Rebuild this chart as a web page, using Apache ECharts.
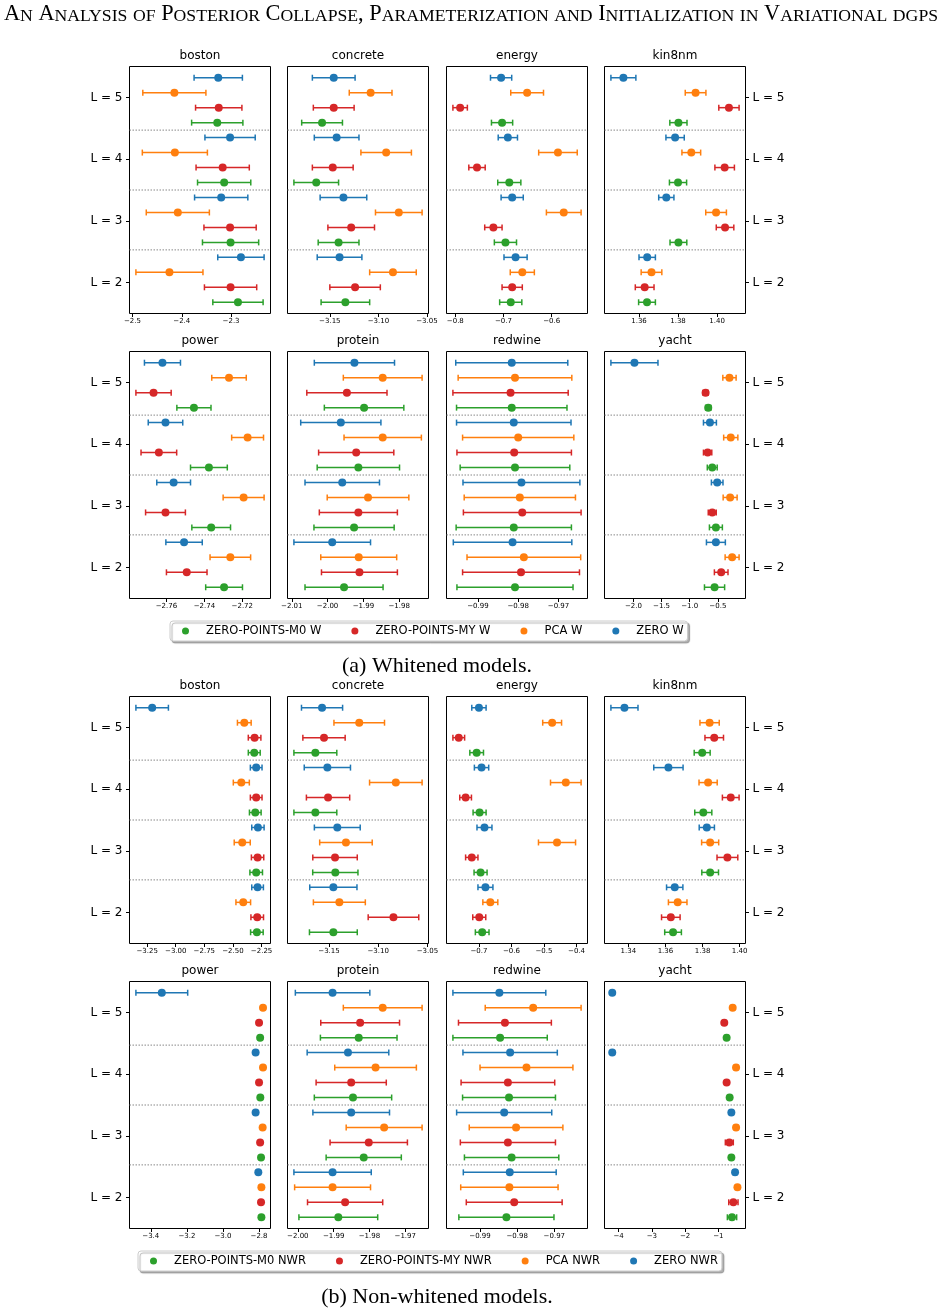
<!DOCTYPE html>
<html>
<head>
<meta charset="utf-8">
<script src="https://cdn.jsdelivr.net/npm/echarts@6/dist/echarts.min.js"></script>
<style>
html, body { margin: 0; padding: 0; background: #fff; }
#chart { width: 942px; height: 1314px; }
</style>
</head>
<body>
<div id="chart"></div>
<script>
// rows of every matrix: ZERO, PCA, ZERO-POINTS-MY, ZERO-POINTS-M0
// columns: L = 5, L = 4, L = 3, L = 2
var layers = ['L = 5', 'L = 4', 'L = 3', 'L = 2'];
var methods = ['ZERO', 'PCA', 'ZERO-POINTS-MY', 'ZERO-POINTS-M0'];
var colors = ['#1f77b4', '#ff7f0e', '#d62728', '#2ca02c'];

// ---- (a) whitened ----
var boston_w_mean = [[-2.326, -2.302, -2.320, -2.280], [-2.415, -2.414, -2.408, -2.425], [-2.325, -2.317, -2.302, -2.301], [-2.328, -2.314, -2.301, -2.286]];
var boston_w_err = [[0.049, 0.051, 0.054, 0.047], [0.064, 0.066, 0.064, 0.068], [0.047, 0.054, 0.053, 0.053], [0.052, 0.054, 0.057, 0.051]];
var boston_w_ticks = ['-2.5', '-2.4', '-2.3'];

var concrete_w_mean = [[-3.146, -3.143, -3.136, -3.140], [-3.108, -3.092, -3.079, -3.085], [-3.146, -3.147, -3.128, -3.124], [-3.158, -3.164, -3.141, -3.134]];
var concrete_w_err = [[0.022, 0.023, 0.024, 0.023], [0.022, 0.026, 0.024, 0.024], [0.021, 0.021, 0.024, 0.026], [0.021, 0.023, 0.021, 0.025]];
var concrete_w_ticks = ['-3.15', '-3.10', '-3.05'];

var energy_w_mean = [[-0.705, -0.691, -0.682, -0.675], [-0.651, -0.587, -0.575, -0.661], [-0.790, -0.755, -0.721, -0.682], [-0.703, -0.688, -0.696, -0.685]];
var energy_w_err = [[0.022, 0.020, 0.023, 0.024], [0.034, 0.040, 0.036, 0.025], [0.015, 0.017, 0.018, 0.021], [0.022, 0.024, 0.023, 0.023]];
var energy_w_ticks = ['-0.8', '-0.7', '-0.6'];

var kin8nm_w_mean = [[1.3520, 1.3785, 1.3740, 1.3642], [1.3890, 1.3868, 1.3995, 1.3664], [1.4061, 1.4039, 1.4041, 1.3629], [1.3802, 1.3800, 1.3802, 1.3641]];
var kin8nm_w_err = [[0.0064, 0.0047, 0.0039, 0.0042], [0.0053, 0.0048, 0.0053, 0.0053], [0.0052, 0.0050, 0.0045, 0.0048], [0.0044, 0.0044, 0.0043, 0.0043]];
var kin8nm_w_ticks = ['1.36', '1.38', '1.40'];

var power_w_mean = [[-2.7621, -2.7605, -2.7562, -2.7507], [-2.7270, -2.7172, -2.7193, -2.7263], [-2.7668, -2.7640, -2.7605, -2.7493], [-2.7455, -2.7376, -2.7364, -2.7296]];
var power_w_err = [[0.0095, 0.0091, 0.0089, 0.0096], [0.0091, 0.0084, 0.0108, 0.0107], [0.0093, 0.0094, 0.0105, 0.0107], [0.0090, 0.0097, 0.0102, 0.0097]];
var power_w_ticks = ['-2.76', '-2.74', '-2.72'];

var protein_w_mean = [[-1.9925, -1.9963, -1.9959, -1.9987], [-1.9846, -1.9846, -1.9887, -1.9913], [-1.9946, -1.9920, -1.9914, -1.9911], [-1.9898, -1.9914, -1.9926, -1.9954]];
var protein_w_err = [[0.0112, 0.0112, 0.0104, 0.0107], [0.0110, 0.0108, 0.0114, 0.0106], [0.0112, 0.0105, 0.0109, 0.0106], [0.0111, 0.0115, 0.0112, 0.0109]];
var protein_w_ticks = ['-2.01', '-2.00', '-1.99', '-1.98'];

var redwine_w_mean = [[-0.9816, -0.9811, -0.9792, -0.9814], [-0.9808, -0.9800, -0.9796, -0.9786], [-0.9819, -0.9810, -0.9790, -0.9793], [-0.9816, -0.9808, -0.9811, -0.9808]];
var redwine_w_err = [[0.0139, 0.0142, 0.0145, 0.0147], [0.0141, 0.0138, 0.0138, 0.0141], [0.0143, 0.0142, 0.0146, 0.0145], [0.0137, 0.0136, 0.0143, 0.0144]];
var redwine_w_ticks = ['-0.99', '-0.98', '-0.97'];

var yacht_w_mean = [[-1.982, -0.641, -0.512, -0.535], [-0.294, -0.271, -0.282, -0.247], [-0.718, -0.682, -0.600, -0.441], [-0.671, -0.600, -0.535, -0.559]];
var yacht_w_err = [[0.418, 0.115, 0.103, 0.168], [0.118, 0.126, 0.124, 0.124], [0.047, 0.074, 0.071, 0.121], [0.047, 0.088, 0.115, 0.179]];
var yacht_w_ticks = ['-2.0', '-1.5', '-1.0', '-0.5'];

// ---- (b) non-whitened ----
var boston_n_mean = [[-3.206, -2.297, -2.282, -2.285], [-2.401, -2.427, -2.419, -2.410], [-2.311, -2.297, -2.285, -2.288], [-2.314, -2.305, -2.297, -2.291]];
var boston_n_err = [[0.142, 0.051, 0.054, 0.051], [0.060, 0.070, 0.070, 0.064], [0.055, 0.051, 0.054, 0.055], [0.052, 0.051, 0.055, 0.055]];
var boston_n_ticks = ['-3.25', '-3.00', '-2.75', '-2.50', '-2.25'];

var concrete_n_mean = [[-3.1571, -3.1517, -3.1416, -3.1456], [-3.1193, -3.0821, -3.1328, -3.1395], [-3.1551, -3.1510, -3.1439, -3.0845], [-3.1639, -3.1639, -3.1436, -3.1456]];
var concrete_n_err = [[0.0209, 0.0235, 0.0233, 0.0240], [0.0257, 0.0267, 0.0267, 0.0264], [0.0215, 0.0220, 0.0226, 0.0257], [0.0218, 0.0218, 0.0230, 0.0243]];
var concrete_n_ticks = ['-3.15', '-3.10', '-3.05'];

var energy_n_mean = [[-0.700, -0.692, -0.683, -0.680], [-0.475, -0.433, -0.460, -0.665], [-0.762, -0.741, -0.722, -0.699], [-0.707, -0.698, -0.695, -0.690]];
var energy_n_err = [[0.022, 0.022, 0.023, 0.023], [0.029, 0.047, 0.057, 0.023], [0.018, 0.018, 0.019, 0.020], [0.021, 0.020, 0.020, 0.021]];
var energy_n_ticks = ['-0.7', '-0.6', '-0.5', '-0.4'];

var kin8nm_n_mean = [[1.3379, 1.3616, 1.3823, 1.3650], [1.3838, 1.3830, 1.3841, 1.3666], [1.3863, 1.3952, 1.3934, 1.3629], [1.3798, 1.3804, 1.3841, 1.3641]];
var kin8nm_n_err = [[0.0073, 0.0079, 0.0041, 0.0044], [0.0052, 0.0049, 0.0046, 0.0050], [0.0050, 0.0045, 0.0056, 0.0050], [0.0043, 0.0046, 0.0045, 0.0045]];
var kin8nm_n_ticks = ['1.34', '1.36', '1.38', '1.40'];

var power_n_mean = [[-3.339, -2.819, -2.819, -2.804], [-2.778, -2.778, -2.780, -2.787], [-2.800, -2.800, -2.794, -2.789], [-2.794, -2.793, -2.789, -2.787]];
var power_n_err = [[0.1435, 0.008, 0.008, 0.008], [0.006, 0.006, 0.006, 0.006], [0.006, 0.006, 0.006, 0.006], [0.006, 0.006, 0.006, 0.006]];
var power_n_ticks = ['-3.4', '-3.2', '-3.0', '-2.8'];

var protein_n_mean = [[-1.9903, -1.9860, -1.9851, -1.9903], [-1.9763, -1.9783, -1.9759, -1.9903], [-1.9826, -1.9851, -1.9802, -1.9868], [-1.9830, -1.9846, -1.9816, -1.9887]];
var protein_n_err = [[0.0104, 0.0114, 0.0107, 0.0108], [0.0110, 0.0114, 0.0106, 0.0106], [0.0110, 0.0098, 0.0108, 0.0105], [0.0107, 0.0108, 0.0105, 0.0110]];
var protein_n_ticks = ['-2.00', '-1.99', '-1.98', '-1.97'];

var redwine_n_mean = [[-0.9848, -0.9819, -0.9835, -0.9820], [-0.9757, -0.9775, -0.9803, -0.9821], [-0.9833, -0.9825, -0.9825, -0.9808], [-0.9846, -0.9822, -0.9815, -0.9829]];
var redwine_n_err = [[0.0125, 0.0127, 0.0128, 0.0125], [0.0129, 0.0125, 0.0126, 0.0131], [0.0125, 0.0126, 0.0128, 0.0129], [0.0127, 0.0125, 0.0127, 0.0128]];
var redwine_n_ticks = ['-0.99', '-0.98', '-0.97'];

var yacht_n_mean = [[-4.193, -4.193, -0.609, -0.497], [-0.569, -0.467, -0.467, -0.426], [-0.822, -0.751, -0.670, -0.548], [-0.751, -0.660, -0.609, -0.589]];
var yacht_n_err = [[0.04, 0.04, 0.05, 0.06], [0.05, 0.05, 0.05, 0.05], [0.05, 0.05, 0.12, 0.14], [0.05, 0.05, 0.05, 0.14]];
var yacht_n_ticks = ['-4', '-3', '-2', '-1'];

var panelsW = [
    ['boston', boston_w_mean, boston_w_err, boston_w_ticks],
    ['concrete', concrete_w_mean, concrete_w_err, concrete_w_ticks],
    ['energy', energy_w_mean, energy_w_err, energy_w_ticks],
    ['kin8nm', kin8nm_w_mean, kin8nm_w_err, kin8nm_w_ticks],
    ['power', power_w_mean, power_w_err, power_w_ticks],
    ['protein', protein_w_mean, protein_w_err, protein_w_ticks],
    ['redwine', redwine_w_mean, redwine_w_err, redwine_w_ticks],
    ['yacht', yacht_w_mean, yacht_w_err, yacht_w_ticks]
];
var panelsN = [
    ['boston', boston_n_mean, boston_n_err, boston_n_ticks],
    ['concrete', concrete_n_mean, concrete_n_err, concrete_n_ticks],
    ['energy', energy_n_mean, energy_n_err, energy_n_ticks],
    ['kin8nm', kin8nm_n_mean, kin8nm_n_err, kin8nm_n_ticks],
    ['power', power_n_mean, power_n_err, power_n_ticks],
    ['protein', protein_n_mean, protein_n_err, protein_n_ticks],
    ['redwine', redwine_n_mean, redwine_n_err, redwine_n_ticks],
    ['yacht', yacht_n_mean, yacht_n_err, yacht_n_ticks]
];

var colLeft = [129.5, 287.5, 446.5, 604.5];
var rowTop = [66.5, 351.5, 696.5, 981.5];
var panelW = 141, panelH = 247;
var sans = 'DejaVu Sans';
var serif = 'Liberation Serif';

var option = {
    animation: false,
    backgroundColor: '#fff',
    title: [],
    grid: [],
    xAxis: [],
    yAxis: [],
    legend: [],
    series: []
};

// small caps title via rich text
function smallCaps(str) {
    var out = '', cur = null, buf = '';
    for (var i = 0; i < str.length; i++) {
        var c = str[i];
        var st = (c >= 'a' && c <= 'z') ? 's' : 'b';
        if (st !== cur && buf) { out += '{' + cur + '|' + buf + '}'; buf = ''; }
        cur = st;
        buf += c.toUpperCase();
    }
    if (buf) out += '{' + cur + '|' + buf + '}';
    return out;
}

option.title.push({
    text: smallCaps('An Analysis of Posterior Collapse, Parameterization and Initialization in Variational dgps'),
    left: 471, top: 3, textAlign: 'center', padding: 0,
    textStyle: {
        fontWeight: 'normal',
        rich: {
            b: { fontFamily: serif, fontWeight: 'normal', fontSize: 22.3, lineHeight: 22, verticalAlign: 'bottom', color: '#000' },
            s: { fontFamily: serif, fontWeight: 'normal', fontSize: 17.7, lineHeight: 17.7, verticalAlign: 'bottom', color: '#000' }
        }
    }
});
option.title.push({
    text: '(a) Whitened models.', left: 437, top: 655, textAlign: 'center', padding: 0,
    textStyle: { fontFamily: serif, fontSize: 22, fontWeight: 'normal', color: '#000' }
});
option.title.push({
    text: '(b) Non-whitened models.', left: 437, top: 1286, textAlign: 'center', padding: 0,
    textStyle: { fontFamily: serif, fontSize: 22, fontWeight: 'normal', color: '#000' }
});

function errRender(color) {
    return function (params, api) {
        var m = api.value(0), y = api.value(1), e = api.value(2);
        var p = api.coord([m, y]);
        var l = api.coord([m - e, y]);
        var r = api.coord([m + e, y]);
        var cap = 3, st = { stroke: color, lineWidth: 1.5 };
        return {
            type: 'group',
            children: [
                { type: 'line', shape: { x1: l[0], y1: p[1], x2: r[0], y2: p[1] }, style: st },
                { type: 'line', shape: { x1: l[0], y1: p[1] - cap, x2: l[0], y2: p[1] + cap }, style: st },
                { type: 'line', shape: { x1: r[0], y1: p[1] - cap, x2: r[0], y2: p[1] + cap }, style: st },
                { type: 'circle', shape: { cx: p[0], cy: p[1], r: 4 }, style: { fill: color } }
            ]
        };
    };
}

function sepRender(params, api) {
    var cs = params.coordSys;
    var y = api.coord([api.value(0), api.value(1)])[1];
    return {
        type: 'line',
        shape: { x1: cs.x, y1: y, x2: cs.x + cs.width, y2: y },
        style: { stroke: '#888', lineWidth: 1, lineDash: [1.5, 1.5] }
    };
}

function addPanel(p, row, col, suffix) {
    var name = p[0], mean = p[1], err = p[2], ticks = p[3];
    var gi = option.grid.length;
    var lo = Infinity, hi = -Infinity;
    for (var k = 0; k < 4; k++) {
        for (var j = 0; j < 4; j++) {
            lo = Math.min(lo, mean[k][j] - err[k][j]);
            hi = Math.max(hi, mean[k][j] + err[k][j]);
        }
    }
    var pad = (hi - lo) * 0.05;
    var xmin = lo - pad, xmax = hi + pad;
    var tickVals = ticks.map(parseFloat).filter(function (v) { return v >= xmin && v <= xmax; });

    option.grid.push({
        left: colLeft[col], top: rowTop[row], width: panelW, height: panelH,
        show: true, borderColor: '#000', borderWidth: 1, backgroundColor: 'transparent',
        containLabel: false, outerBoundsMode: 'none'
    });
    option.title.push({
        text: name, left: colLeft[col] + panelW / 2, top: rowTop[row] - 16.5, textAlign: 'center', padding: 0,
        textStyle: { fontFamily: sans, fontSize: 12, fontWeight: 'normal', color: '#000' }
    });
    option.xAxis.push({
        type: 'value', gridIndex: gi, min: xmin, max: xmax,
        splitLine: { show: false },
        axisLine: { show: false, onZero: false },
        axisTick: { show: true, customValues: tickVals, length: 3.5, lineStyle: { color: '#000', width: 1 } },
        axisLabel: {
            customValues: tickVals, fontSize: 7, fontFamily: sans, color: '#000', margin: 4,
            formatter: function (v) {
                for (var i = 0; i < ticks.length; i++) {
                    if (Math.abs(parseFloat(ticks[i]) - v) < 1e-9) return ticks[i].replace('-', '\u2212');
                }
                return '';
            }
        }
    });
    var yi = option.yAxis.length;
    option.yAxis.push({
        type: 'value', gridIndex: gi, min: -0.75, max: 15.75, inverse: true, show: false,
        axisLine: { onZero: false }
    });
    if (col === 0 || col === 3) {
        option.yAxis.push({
            type: 'category', gridIndex: gi, data: layers, inverse: true,
            position: col === 0 ? 'left' : 'right',
            axisLine: { show: false, onZero: false },
            splitLine: { show: false },
            axisTick: { show: true, alignWithLabel: true, length: 3.5, lineStyle: { color: '#000' } },
            axisLabel: { fontSize: 12, fontFamily: sans, color: '#000', margin: 7 }
        });
    }

    option.series.push({
        type: 'custom', name: 'sep', xAxisIndex: gi, yAxisIndex: yi, z: 1, silent: true,
        renderItem: sepRender,
        data: [[(xmin + xmax) / 2, 3.5], [(xmin + xmax) / 2, 7.5], [(xmin + xmax) / 2, 11.5]]
    });
    for (var k2 = 0; k2 < 4; k2++) {
        var data = [];
        for (var j2 = 0; j2 < 4; j2++) data.push([mean[k2][j2], j2 * 4 + k2, err[k2][j2]]);
        option.series.push({
            type: 'custom', name: methods[k2] + ' ' + suffix,
            xAxisIndex: gi, yAxisIndex: yi, z: 3,
            itemStyle: { color: colors[k2] },
            renderItem: errRender(colors[k2]),
            data: data
        });
    }
}

panelsW.forEach(function (p, i) { addPanel(p, Math.floor(i / 4), i % 4, 'W'); });
panelsN.forEach(function (p, i) { addPanel(p, 2 + Math.floor(i / 4), i % 4, 'NWR'); });

function legendFor(suffix, left, top) {
    return {
        data: [methods[3] + ' ' + suffix, methods[2] + ' ' + suffix, methods[1] + ' ' + suffix, methods[0] + ' ' + suffix],
        left: left, top: top, orient: 'horizontal', icon: 'circle',
        itemWidth: 7, itemHeight: 7, itemGap: 30, selectedMode: false,
        padding: [4, 4, 4, 12],
        backgroundColor: '#fff', borderColor: '#ccc', borderWidth: 1, borderRadius: 3,
        shadowColor: 'rgba(0,0,0,0.3)', shadowOffsetX: 2, shadowOffsetY: 2, shadowBlur: 1,
        textStyle: { fontFamily: sans, fontSize: 11.5, color: '#000', padding: [0, 0, 0, 12] }
    };
}
option.legend.push(legendFor('W', 170, 621));
option.legend.push(legendFor('NWR', 138, 1251));

var myChart = echarts.init(document.getElementById('chart'), null, { renderer: 'canvas' });
myChart.setOption(option);
</script>
</body>
</html>
